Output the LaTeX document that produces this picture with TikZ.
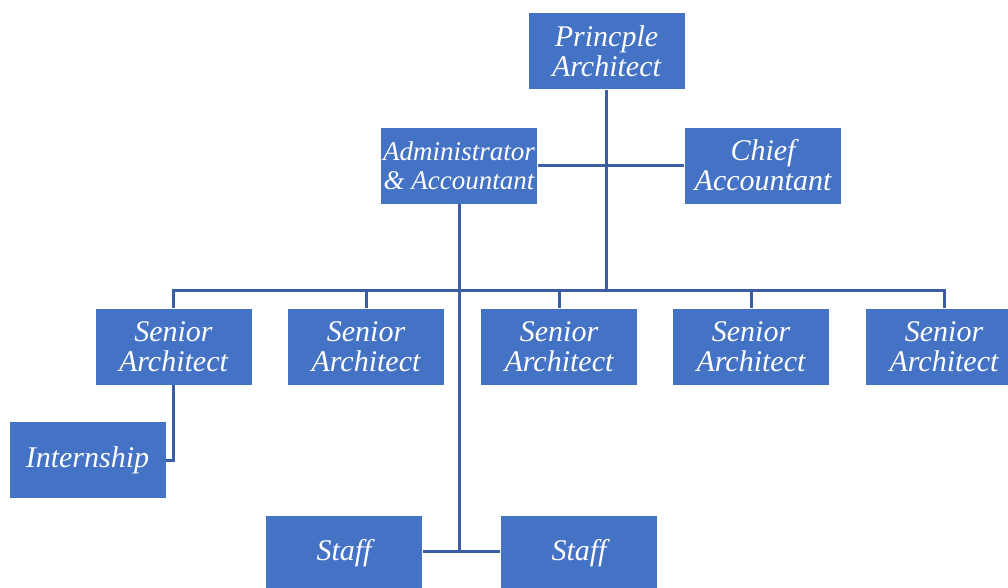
\documentclass[tikz,border=0pt]{standalone}
\usepackage{fontspec}
\setmainfont{Liberation Serif}
\definecolor{boxblue}{HTML}{4472C4}
\definecolor{lineblue}{HTML}{3A5DA5}

\begin{document}
\begin{tikzpicture}[x=1pt,y=-1pt]
        \tikzset{post/.style={draw=white,line width=0.8pt,fill=boxblue,text=white,
                minimum width=157pt,minimum height=77pt,inner sep=0pt,align=center,
                font=\fontsize{30}{30}\selectfont\itshape},
            narrow/.style={font=\fontsize{27}{29}\selectfont\itshape},
            link/.style={draw=lineblue,line width=3pt}}
        \useasboundingbox (0,0) rectangle (1008,587);
        \clip (0,0) rectangle (1008,587);
        % boxes
        \node[post] (principle) at (606.5,51) {Princple\\Architect};
        \node[post,narrow] (admin) at (459,165.5) {Administrator\\\& Accountant};
        \node[post] (chief) at (763,165.5) {Chief\\Accountant};
        \foreach \i/\x in {1/173.5,2/366,3/559,4/751,5/944}
            \node[post] (senior\i) at (\x,346.5) {Senior\\Architect};
        \node[post] (intern) at (87.5,460) {Internship};
        \node[post] (staff1) at (344,553.5) {Staff};
        \node[post] (staff2) at (579,553.5) {Staff};
        \coordinate (hub) at (606.5,290);
        \coordinate (stafftap) at (459,551);
        % links
        \draw[link] (principle.south) -- (hub);
        \draw[link] (admin.east) -- (chief.west);
        \foreach \i in {1,...,5}
            \draw[link] (hub) -| (senior\i.north);
        \draw[link] (senior1.south) |- (intern.east);
        \draw[link] (admin.south) -- (stafftap);
        \draw[link] (staff1.east |- stafftap) -- (staff2.west |- stafftap);
    \end{tikzpicture}
\end{document}
